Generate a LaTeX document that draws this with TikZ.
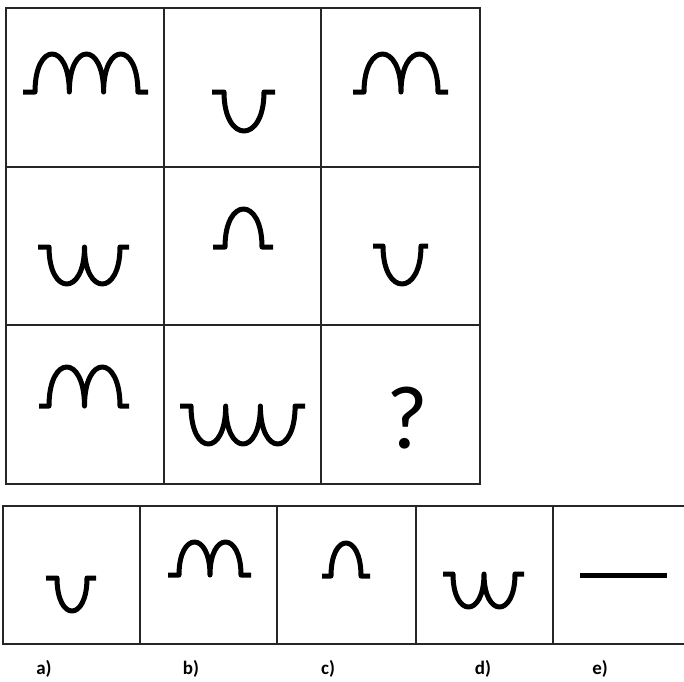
\documentclass[tikz,border=0pt]{standalone}
\usepackage{fontspec}
\setmainfont{Carlito}
\newcommand\wavy[7]{%
  \draw[glyph] (#1,#6) -- (#2,#6)
    \foreach \i in {1,...,#4}{ .. controls ({#2+(\i-1)*#3},{#6-1.3333*#5}) and ({#2+\i*#3},{#6-1.3333*#5}) .. ({#2+\i*#3},#6) }
    -- (#7,#6);}
\begin{document}
\begin{tikzpicture}[x=1pt,y=-1pt,
  gridline/.style={line width=1.8pt,draw=black!85},
  glyph/.style={line width=5pt,line join=round,line cap=butt},
  lab/.style={anchor=base,font=\fontsize{19}{21}\selectfont\bfseries}]
\useasboundingbox (0,0) rectangle (684,681);
% 3x3 grid
\draw[gridline] (6,8) rectangle (480,484);
\draw[gridline] (164,8) -- (164,484) (321,8) -- (321,484);
\draw[gridline] (6,167) -- (480,167) (6,325) -- (480,325);
% answer strip
\draw[gridline] (684,506) -- (3,506) -- (3,644) -- (684,644);
\draw[gridline] (140,506) -- (140,644) (277,506) -- (277,644)
  (416,506) -- (416,644) (553,506) -- (553,644);
% grid glyphs
\wavy{23}{35}{34.3}{3}{38}{92}{148}
\wavy{212}{224}{40}{1}{-39}{92}{275}
\wavy{353}{364}{37}{2}{38}{92}{448}
\wavy{38}{49}{35.5}{2}{-37}{247}{129}
\wavy{213}{225}{37}{1}{38}{247}{273}
\wavy{373}{383}{38}{1}{-38}{246}{428}
\wavy{39}{49}{35.5}{2}{39}{406}{129}
\wavy{180}{191}{34.7}{3}{-38}{406}{305}
\node[anchor=base,inner sep=0pt] (q) at (407,448) {\fontsize{90}{90}\selectfont ?};
% answer glyphs
\wavy{46}{57}{30}{1}{-33}{578}{96}
\wavy{168}{179}{31}{2}{33}{575}{251}
\wavy{322}{331}{30}{1}{33}{576}{370}
\wavy{443}{453}{31}{2}{-33}{574}{524}
\draw[line width=5pt] (580,575) -- (667,575);
% labels
\node[lab] (la) at (44,674) {a)};
\node[lab] (lb) at (191,674) {b)};
\node[lab] (lc) at (328,674) {c)};
\node[lab] (ld) at (483,674) {d)};
\node[lab] (le) at (600,674) {e)};
\end{tikzpicture}
\end{document}
